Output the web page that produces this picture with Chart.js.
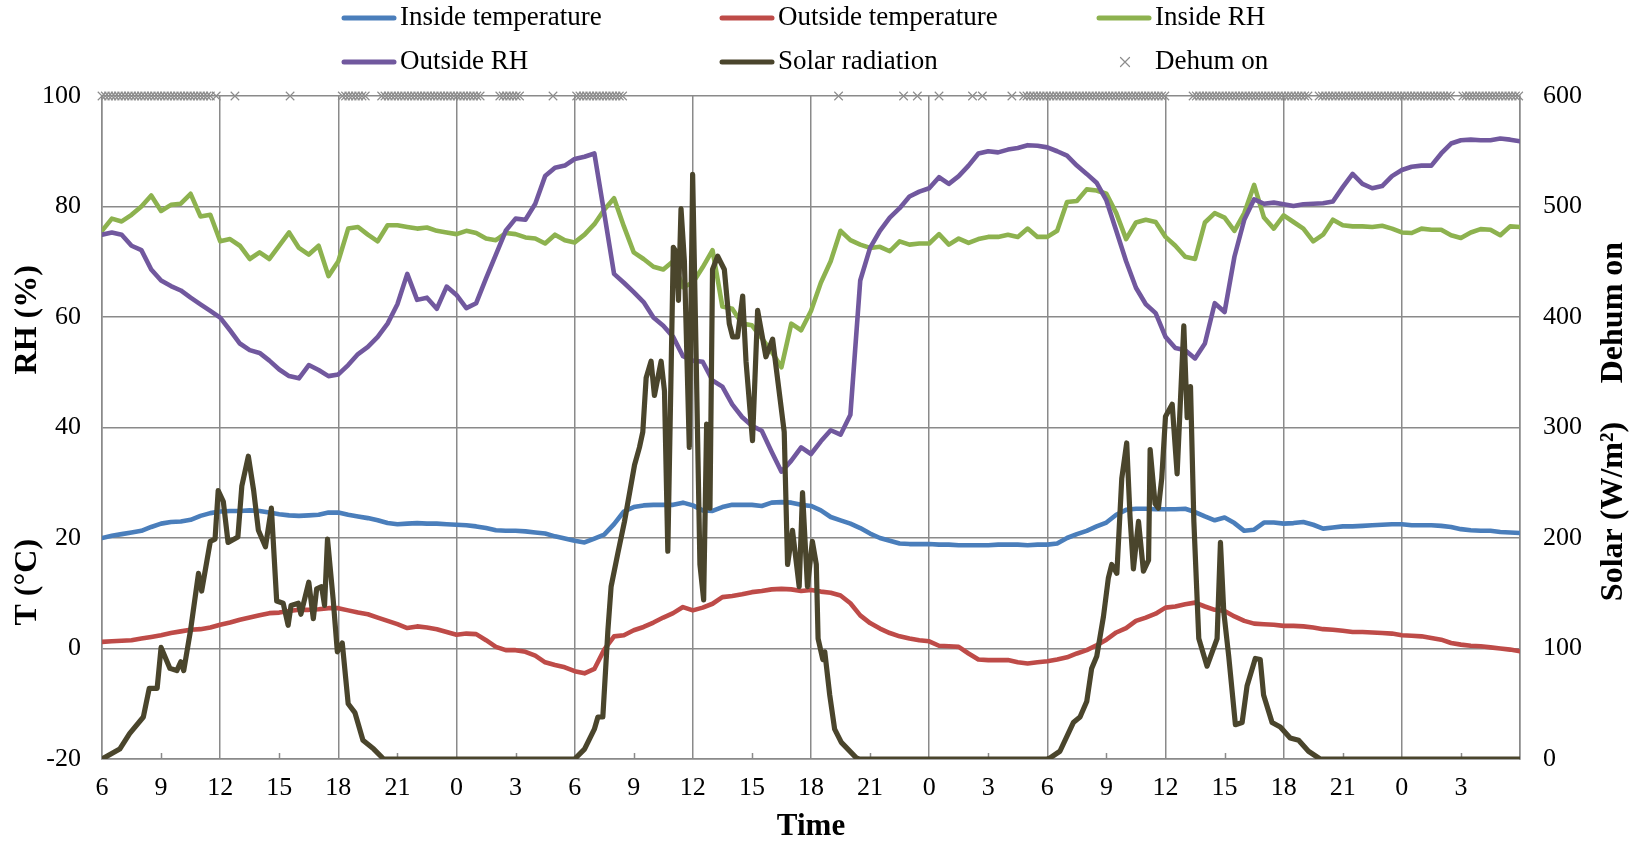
<!DOCTYPE html>
<html>
<head>
<meta charset="utf-8">
<title>Greenhouse climate</title>
<script src="https://cdn.jsdelivr.net/npm/chart.js@4.4.1/dist/chart.umd.min.js"></script>
<style>
  html, body { margin: 0; padding: 0; background: #fff; }
  canvas { display: block; }
</style>
</head>
<body>
<canvas id="chart" width="1639" height="846"></canvas>
<script>
// half-hourly readings, hour 0 = 06:00 on the first day, 145 points over 72 h
const insideTemp = [
  20.0, 20.4, 20.7, 21.0, 21.3, 22.0, 22.6, 22.9, 23.0, 23.3, 24.0, 24.5, 24.8, 24.9, 24.9, 25.0, 24.9, 24.6, 24.3, 24.1,
  24.0, 24.1, 24.2, 24.6, 24.6, 24.2, 23.9, 23.6, 23.2, 22.7, 22.5, 22.6, 22.7, 22.6, 22.6, 22.5, 22.4,
  22.3, 22.1, 21.8, 21.4, 21.3, 21.3, 21.2, 21.0, 20.8, 20.3, 19.9, 19.5, 19.2, 19.9, 20.6, 22.5, 24.8, 25.6, 25.9, 26.0,
  26.0, 26.0, 26.4, 25.9, 25.0, 24.9, 25.6, 26.0, 26.0, 26.0, 25.8, 26.4, 26.5, 26.4, 26.0, 25.8,
  25.0, 23.8, 23.2, 22.6, 21.8, 20.8, 20.0, 19.5, 19.0, 18.9, 18.9, 18.9, 18.8, 18.8, 18.7, 18.7, 18.7, 18.7, 18.8, 18.8,
  18.8, 18.7, 18.8, 18.8, 19.0, 20.0, 20.7, 21.3, 22.1, 22.8, 24.2, 25.1, 25.3, 25.3, 25.2, 25.2,
  25.2, 25.3, 24.7, 23.9, 23.2, 23.7, 22.7, 21.3, 21.5, 22.8, 22.8, 22.6, 22.7, 22.9, 22.4, 21.7, 21.9, 22.1, 22.1, 22.2,
  22.3, 22.4, 22.5, 22.5, 22.3, 22.3, 22.3, 22.2, 22.0, 21.6, 21.4, 21.3, 21.3, 21.1, 21.0, 20.9
];
const outsideTemp = [
  1.2, 1.3, 1.4, 1.5, 1.8, 2.1, 2.4, 2.8, 3.1, 3.4, 3.5, 3.8, 4.3, 4.7, 5.2, 5.6, 6.0, 6.4, 6.5, 6.8,
  7.0, 7.0, 7.1, 7.3, 7.3, 6.9, 6.5, 6.2, 5.6, 5.0, 4.4, 3.7, 4.0, 3.8, 3.5, 3.0, 2.5,
  2.7, 2.6, 1.5, 0.3, -0.3, -0.3, -0.6, -1.3, -2.5, -3.0, -3.4, -4.1, -4.5, -3.7, -0.2, 2.2, 2.4, 3.3, 3.9, 4.7,
  5.6, 6.4, 7.5, 6.9, 7.4, 8.1, 9.3, 9.5, 9.8, 10.2, 10.4, 10.7, 10.8, 10.7, 10.4, 10.6,
  10.3, 10.1, 9.6, 8.2, 6.0, 4.6, 3.6, 2.8, 2.2, 1.8, 1.5, 1.3, 0.5, 0.4, 0.3, -0.9, -2.0, -2.1, -2.1, -2.1,
  -2.5, -2.7, -2.5, -2.3, -2.0, -1.6, -0.9, -0.3, 0.6, 1.6, 2.9, 3.7, 5.0, 5.6, 6.3, 7.4,
  7.6, 8.0, 8.3, 7.6, 7.0, 6.8, 5.8, 5.0, 4.5, 4.4, 4.3, 4.1, 4.1, 4.0, 3.8, 3.5, 3.4, 3.2, 3.0, 3.0,
  2.9, 2.8, 2.7, 2.4, 2.3, 2.2, 1.9, 1.6, 1.0, 0.7, 0.5, 0.4, 0.2, 0.0, -0.2, -0.5
];
const insideRH = [
  75.6, 77.8, 77.3, 78.5, 80.0, 82.0, 79.2, 80.3, 80.5, 82.3, 78.2, 78.5, 73.7, 74.1, 72.9, 70.5, 71.7, 70.5, 72.9, 75.3,
  72.5, 71.3, 72.9, 67.4, 70.1, 76.0, 76.3, 74.9, 73.7, 76.6, 76.6, 76.3, 76.0, 76.2, 75.6, 75.3, 75.0,
  75.6, 75.2, 74.2, 73.9, 75.2, 75.0, 74.4, 74.2, 73.3, 74.9, 73.9, 73.5, 74.9, 76.8, 79.4, 81.5, 76.4, 71.7, 70.5, 69.1,
  68.6, 70.1, 65.4, 66.2, 69.0, 72.1, 61.9, 61.5, 58.8, 58.5, 56.2, 53.7, 50.9, 58.8, 57.6, 61.1,
  66.2, 70.1, 75.6, 73.9, 73.1, 72.5, 72.7, 71.9, 73.7, 73.1, 73.3, 73.3, 75.0, 73.1, 74.2, 73.4, 74.1, 74.5, 74.5, 74.9,
  74.5, 76.0, 74.5, 74.5, 75.6, 80.8, 81.0, 83.1, 82.9, 82.3, 78.8, 74.1, 77.1, 77.6, 77.2, 74.5,
  72.9, 70.9, 70.5, 77.1, 78.8, 78.0, 75.6, 78.8, 83.9, 78.0, 76.0, 78.4, 77.2, 76.0, 73.7, 74.9, 77.6, 76.6, 76.4, 76.4,
  76.3, 76.5, 76.0, 75.3, 75.2, 76.0, 75.8, 75.8, 74.8, 74.3, 75.3, 75.9, 75.8, 74.8, 76.4, 76.3
];
const outsideRH = [
  74.9, 75.3, 74.9, 72.9, 72.1, 68.6, 66.6, 65.6, 64.8, 63.5, 62.3, 61.1, 59.9, 57.6, 55.2, 54.0, 53.5, 52.1, 50.5, 49.3,
  48.9, 51.3, 50.4, 49.3, 49.6, 51.3, 53.3, 54.6, 56.4, 58.8, 62.3, 67.8, 63.1, 63.5, 61.5, 65.5, 64.0,
  61.6, 62.5, 67.0, 71.3, 75.6, 77.8, 77.6, 80.5, 85.5, 87.0, 87.4, 88.6, 89.0, 89.6, 78.8, 67.8, 66.2, 64.5, 62.7, 59.9,
  58.4, 56.4, 52.9, 52.1, 51.9, 48.5, 47.4, 44.2, 41.9, 40.3, 39.4, 35.6, 32.0, 34.0, 36.4, 35.2,
  37.5, 39.5, 38.7, 42.3, 66.6, 72.5, 75.6, 78.0, 79.7, 81.8, 82.7, 83.3, 85.3, 84.1, 85.5, 87.4, 89.6, 90.0, 89.8, 90.3,
  90.6, 91.1, 91.0, 90.7, 90.0, 89.2, 87.4, 85.9, 84.3, 81.1, 75.6, 70.1, 65.3, 62.3, 60.7, 56.4,
  54.4, 54.0, 52.5, 55.2, 62.5, 60.9, 70.9, 77.6, 81.3, 80.5, 80.7, 80.4, 80.1, 80.4, 80.5, 80.6, 80.9, 83.5, 85.9, 84.1,
  83.3, 83.7, 85.5, 86.6, 87.2, 87.4, 87.4, 89.6, 91.4, 92.0, 92.1, 92.0, 92.0, 92.3, 92.1, 91.8
];

// solar radiation is logged at its own (irregular) times
const solarHours = [
  0, 0.9, 1.4, 2.1, 2.4, 2.8, 3.0, 3.45, 3.8, 4.0, 4.15, 4.5, 4.9, 5.06, 5.5, 5.74, 5.9, 6.16, 6.4, 6.9,
  7.1, 7.43, 7.7, 7.94, 8.3, 8.6, 8.87, 9.2, 9.45, 9.6, 9.97, 10.1, 10.5, 10.73, 10.9, 11.15, 11.3, 11.45, 11.74, 11.95,
  12.2, 12.5, 12.84, 13.25, 13.8, 14.3,
  24.0, 24.5, 25.0, 25.18, 25.43, 25.69, 25.85, 26.19, 26.53, 27.04, 27.29, 27.46, 27.63, 27.88, 28.05, 28.39, 28.56, 28.73, 29.01, 29.15,
  29.27, 29.4, 29.57, 29.82, 29.99, 30.16, 30.36, 30.55, 30.7, 30.87, 31.0, 31.26, 31.6, 31.85, 32.02, 32.27, 32.53, 32.7, 33.03, 33.29,
  33.71, 34.05, 34.64, 34.81, 35.06, 35.4, 35.57, 35.82, 36.07, 36.27, 36.36, 36.6, 36.7, 36.95, 37.2, 37.54, 38.3, 38.44,
  48.0, 48.14, 48.64, 49.32, 49.66, 50.0, 50.25, 50.51, 50.85, 51.1, 51.27, 51.53, 51.78, 52.03, 52.2, 52.37, 52.63, 52.88, 53.14, 53.22,
  53.47, 53.64, 53.81, 54.0, 54.34, 54.59, 54.93, 55.1, 55.27, 55.44, 55.69, 56.11, 56.62, 56.79, 56.96, 57.21, 57.55, 57.89, 58.14, 58.56,
  58.81, 58.98, 59.41, 59.83, 60.33, 60.76, 61.26, 61.85, 72
];
const solarWm2 = [
  0, 9, 23, 38, 64, 64, 101, 82, 80, 88, 80, 117, 168, 152, 197, 199, 243, 233, 196, 201,
  247, 274, 243, 207, 192, 227, 143, 141, 121, 139, 141, 131, 160, 127, 154, 156, 139, 199, 144, 97,
  105, 50, 42, 17, 9, 0,
  0, 9, 27, 38, 38, 117, 156, 186, 215, 266, 282, 296, 345, 360, 329, 360, 333, 188, 463, 459,
  415, 498, 451, 282, 529, 372, 176, 144, 303, 227, 443, 455, 443, 394, 382, 382, 419, 360, 288, 406,
  364, 380, 296, 176, 207, 156, 241, 156, 197, 176, 109, 90, 97, 58, 27, 15, 1, 0,
  0, 1, 7, 33, 38, 52, 82, 93, 129, 164, 176, 168, 254, 286, 219, 172, 215, 170, 180, 280,
  231, 227, 254, 310, 321, 258, 392, 309, 337, 215, 109, 84, 109, 196, 133, 93, 31, 33, 66, 91,
  90, 58, 33, 29, 19, 17, 7, 0, 0
];

// dehumidifier on-periods (hours), logged every 10 minutes
const dehumStart = [0, 5.8, 6.75, 9.55, 12.2, 14.2, 20.2, 22.9, 24.1, 37.4, 40.7, 41.4, 42.5, 44.2, 44.7, 46.2, 46.8, 55.4, 61.8, 69.1];
const dehumEnd   = [5.5, 5.8, 6.75, 9.55, 13.4, 19.2, 21.2, 22.9, 26.5, 37.4, 40.7, 41.4, 42.5, 44.2, 44.7, 46.2, 54.0, 61.3, 68.6, 72];

const hourTicks = [6, 9, 12, 15, 18, 21, 0, 3];

const FONT = '"Liberation Serif", "Times New Roman", serif';
const GRID = '#8a8a8a';

const toPoints = arr => arr.map((v, i) => ({ x: i / 2, y: v }));
const solarPoints = solarHours.map((h, i) => ({ x: h, y: solarWm2[i] }));
const dehumPoints = [];
dehumStart.forEach((s, k) => {
  for (let t = s; t <= dehumEnd[k] + 1e-6; t += 1 / 6) dehumPoints.push({ x: t, y: 100 });
});

// legend laid out as a 3 x 2 grid above the plot
const legendGrid = {
  id: 'legendGrid',
  afterDraw(chart) {
    const ctx = chart.ctx;
    const cols = [342, 720, 1097];
    const rows = [18, 62];
    ctx.save();
    ctx.font = '27px ' + FONT;
    ctx.textBaseline = 'middle';
    ctx.fillStyle = '#000';
    chart.data.datasets.forEach((ds, i) => {
      const x = cols[i % 3], y = rows[Math.floor(i / 3)];
      if (ds.showLine === false) {
        const r = 4.5;
        ctx.strokeStyle = ds.borderColor;
        ctx.lineWidth = 1.2;
        ctx.beginPath();
        ctx.moveTo(x + 28 - r, y - r); ctx.lineTo(x + 28 + r, y + r);
        ctx.moveTo(x + 28 - r, y + r); ctx.lineTo(x + 28 + r, y - r);
        ctx.stroke();
      } else {
        ctx.strokeStyle = ds.borderColor;
        ctx.lineWidth = 5;
        ctx.lineCap = 'round';
        ctx.beginPath();
        ctx.moveTo(x + 2, y); ctx.lineTo(x + 52, y);
        ctx.stroke();
      }
      ctx.fillText(ds.label, x + 58, y);
    });
    ctx.restore();
  }
};

// two titles share each vertical axis; small inside ticks at the 3 h marks
const axisDecor = {
  id: 'axisDecor',
  beforeDatasetsDraw(chart) {
    const { ctx, scales, chartArea } = chart;
    ctx.save();
    ctx.strokeStyle = GRID;
    ctx.lineWidth = 1.5;
    ctx.beginPath();
    for (let v = 3; v < 72; v += 6) {
      const x = Math.round(scales.x.getPixelForValue(v)) + 0.5;
      ctx.moveTo(x, chartArea.bottom);
      ctx.lineTo(x, chartArea.bottom - 6);
    }
    ctx.stroke();
    ctx.restore();
  },
  afterDraw(chart) {
    const { ctx, scales } = chart;
    const put = (text, x, y) => {
      ctx.save();
      ctx.translate(x, y);
      ctx.rotate(-Math.PI / 2);
      ctx.fillText(text, 0, 0);
      ctx.restore();
    };
    ctx.save();
    ctx.font = 'bold 32px ' + FONT;
    ctx.fillStyle = '#000';
    ctx.textAlign = 'center';
    ctx.textBaseline = 'middle';
    put('RH (%)', 28, scales.y.getPixelForValue(59.5));
    put('T (°C)', 28, scales.y.getPixelForValue(12));
    put('Dehum on', 1614, scales.y2.getPixelForValue(404));
    put('Solar (W/m²)', 1614, scales.y2.getPixelForValue(224));
    ctx.restore();
  }
};

const line = (label, data, color, order, axis) => ({
  label, data, borderColor: color, backgroundColor: color,
  borderWidth: 4.6, pointRadius: 0, tension: 0, order,
  borderJoinStyle: 'round', borderCapStyle: 'round', yAxisID: axis || 'y'
});

new Chart(document.getElementById('chart'), {
  type: 'line',
  data: {
    datasets: [
      line('Inside temperature', toPoints(insideTemp), '#4a7ebb', 6),
      line('Outside temperature', toPoints(outsideTemp), '#be4b48', 5),
      line('Inside RH', toPoints(insideRH), '#8db24f', 4),
      line('Outside RH', toPoints(outsideRH), '#71589e', 3),
      Object.assign(line('Solar radiation', solarPoints, '#4a452c', 2, 'y2'), { borderWidth: 5.2 }),
      {
        label: 'Dehum on', data: dehumPoints, showLine: false, yAxisID: 'y', order: 1,
        pointStyle: 'crossRot', pointRadius: 6, pointBorderWidth: 1.1,
        borderColor: '#8c8c8c', backgroundColor: '#8c8c8c', clip: false
      }
    ]
  },
  options: {
    responsive: false,
    devicePixelRatio: 1,
    animation: false,
    layout: { padding: { top: 96, left: 0, right: 0, bottom: 0 } },
    plugins: { legend: { display: false }, tooltip: { enabled: false } },
    scales: {
      x: {
        type: 'linear', min: 0, max: 72,
        afterFit: s => { s.height = 87; },
        ticks: {
          stepSize: 3, autoSkip: false, maxRotation: 0, padding: 14,
          color: '#000', font: { family: FONT, size: 26 },
          callback: v => (v >= 72 ? '' : String(hourTicks[(v / 3) % 8]))
        },
        grid: {
          drawTicks: false, lineWidth: 1.5,
          color: c => (c.tick && c.tick.value % 6 === 0 ? GRID : 'rgba(0,0,0,0)')
        },
        border: { color: GRID, width: 1.5 },
        title: {
          display: true, text: 'Time', color: '#000',
          font: { family: FONT, size: 31, weight: 'bold' }, padding: { top: 0, bottom: 0 }
        }
      },
      y: {
        position: 'left', min: -20, max: 100,
        afterFit: s => { s.width = 102; },
        ticks: { stepSize: 20, padding: 21, color: '#000', font: { family: FONT, size: 26 } },
        grid: { drawTicks: false, color: GRID, lineWidth: 1.5 },
        border: { color: GRID, width: 1.5 }
      },
      y2: {
        position: 'right', min: 0, max: 600,
        afterFit: s => { s.width = 119; },
        ticks: { stepSize: 100, padding: 23, color: '#000', font: { family: FONT, size: 26 } },
        grid: { drawOnChartArea: false, drawTicks: false },
        border: { display: true, color: GRID, width: 1.5 }
      }
    }
  },
  plugins: [legendGrid, axisDecor]
});
</script>
</body>
</html>
